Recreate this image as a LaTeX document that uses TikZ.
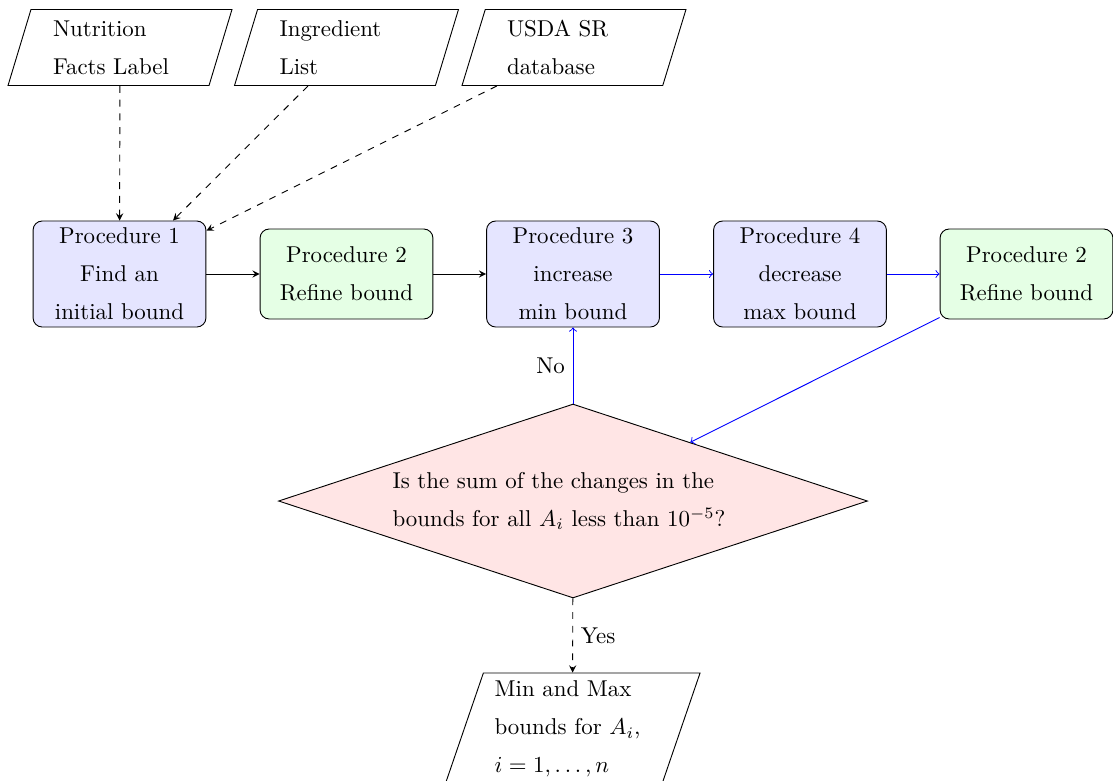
\documentclass[tikz,border=0pt]{standalone}
\usetikzlibrary{shapes.geometric,arrows}
\begin{document}
\begin{tikzpicture}[x=0.4367pt,y=-0.4367pt,
  font=\fontsize{10pt}{16.6pt}\selectfont,
  procbox/.style={draw, rounded corners=4pt, align=center, text width=71.5pt,
    inner sep=2pt, minimum height=46.3pt},
  iobox/.style={draw, trapezium, trapezium left angle=70, trapezium right angle=110,
    trapezium stretches body=true, align=left, inner sep=2pt},
  decbox/.style={draw, diamond, aspect=3.036, fill=red!10, align=left, text width=157.6pt,
    inner sep=0pt, minimum width=257.2pt, minimum height=84.7pt},
  blackarr/.style={-stealth},
  dasharr/.style={-stealth, dashed},
  bluearr/.style={->, blue}]
\useasboundingbox (0,0) rectangle (1113,780);

\node[iobox, text width=58.5pt, minimum width=97.8pt, minimum height=33.2pt] (nfl) at (120,47.5) {Nutrition\\Facts Label};
\node[iobox, text width=58.5pt, minimum width=97.8pt, minimum height=33.2pt] (ing) at (346.5,47.5) {Ingredient\\List};
\node[iobox, text width=58.5pt, minimum width=97.8pt, minimum height=33.2pt] (usda) at (574,47.5) {USDA SR\\database};

\node[procbox, fill=blue!10] (p1) at (119.5,274) {Procedure 1\\Find an\\initial bound};
\node[procbox, fill=green!10, minimum height=39.3pt] (p2) at (346.5,274) {Procedure 2\\Refine bound};
\node[procbox, fill=blue!10] (p3) at (573,274) {Procedure 3\\increase\\min bound};
\node[procbox, fill=blue!10] (p4) at (800,274) {Procedure 4\\decrease\\max bound};
\node[procbox, fill=green!10, minimum height=39.3pt] (p2b) at (1026.5,274) {Procedure 2\\Refine bound};

\node[decbox] (dec) at (573,501) {Is the sum of the changes in the\\bounds for all $A_i$ less than $10^{-5}$?};

\node[iobox, text width=68pt, minimum width=111.4pt, minimum height=48.9pt] (out) at (572.5,729) {Min and Max\\bounds for $A_i$,\\$i=1,\ldots,n$};

\draw[dasharr] (nfl) -- (p1);
\draw[dasharr] (ing) -- (p1);
\draw[dasharr] (usda) -- (p1);
\draw[blackarr] (p1) -- (p2);
\draw[blackarr] (p2) -- (p3);
\draw[bluearr] (p3) -- (p4);
\draw[bluearr] (p4) -- (p2b);
\draw[bluearr] (p2b) -- (dec);
\draw[bluearr] (dec) -- node[left, text=black] (nolbl) {No} (p3);
\draw[dasharr] (dec) -- node[right] (yeslbl) {Yes} (out);
\end{tikzpicture}
\end{document}
